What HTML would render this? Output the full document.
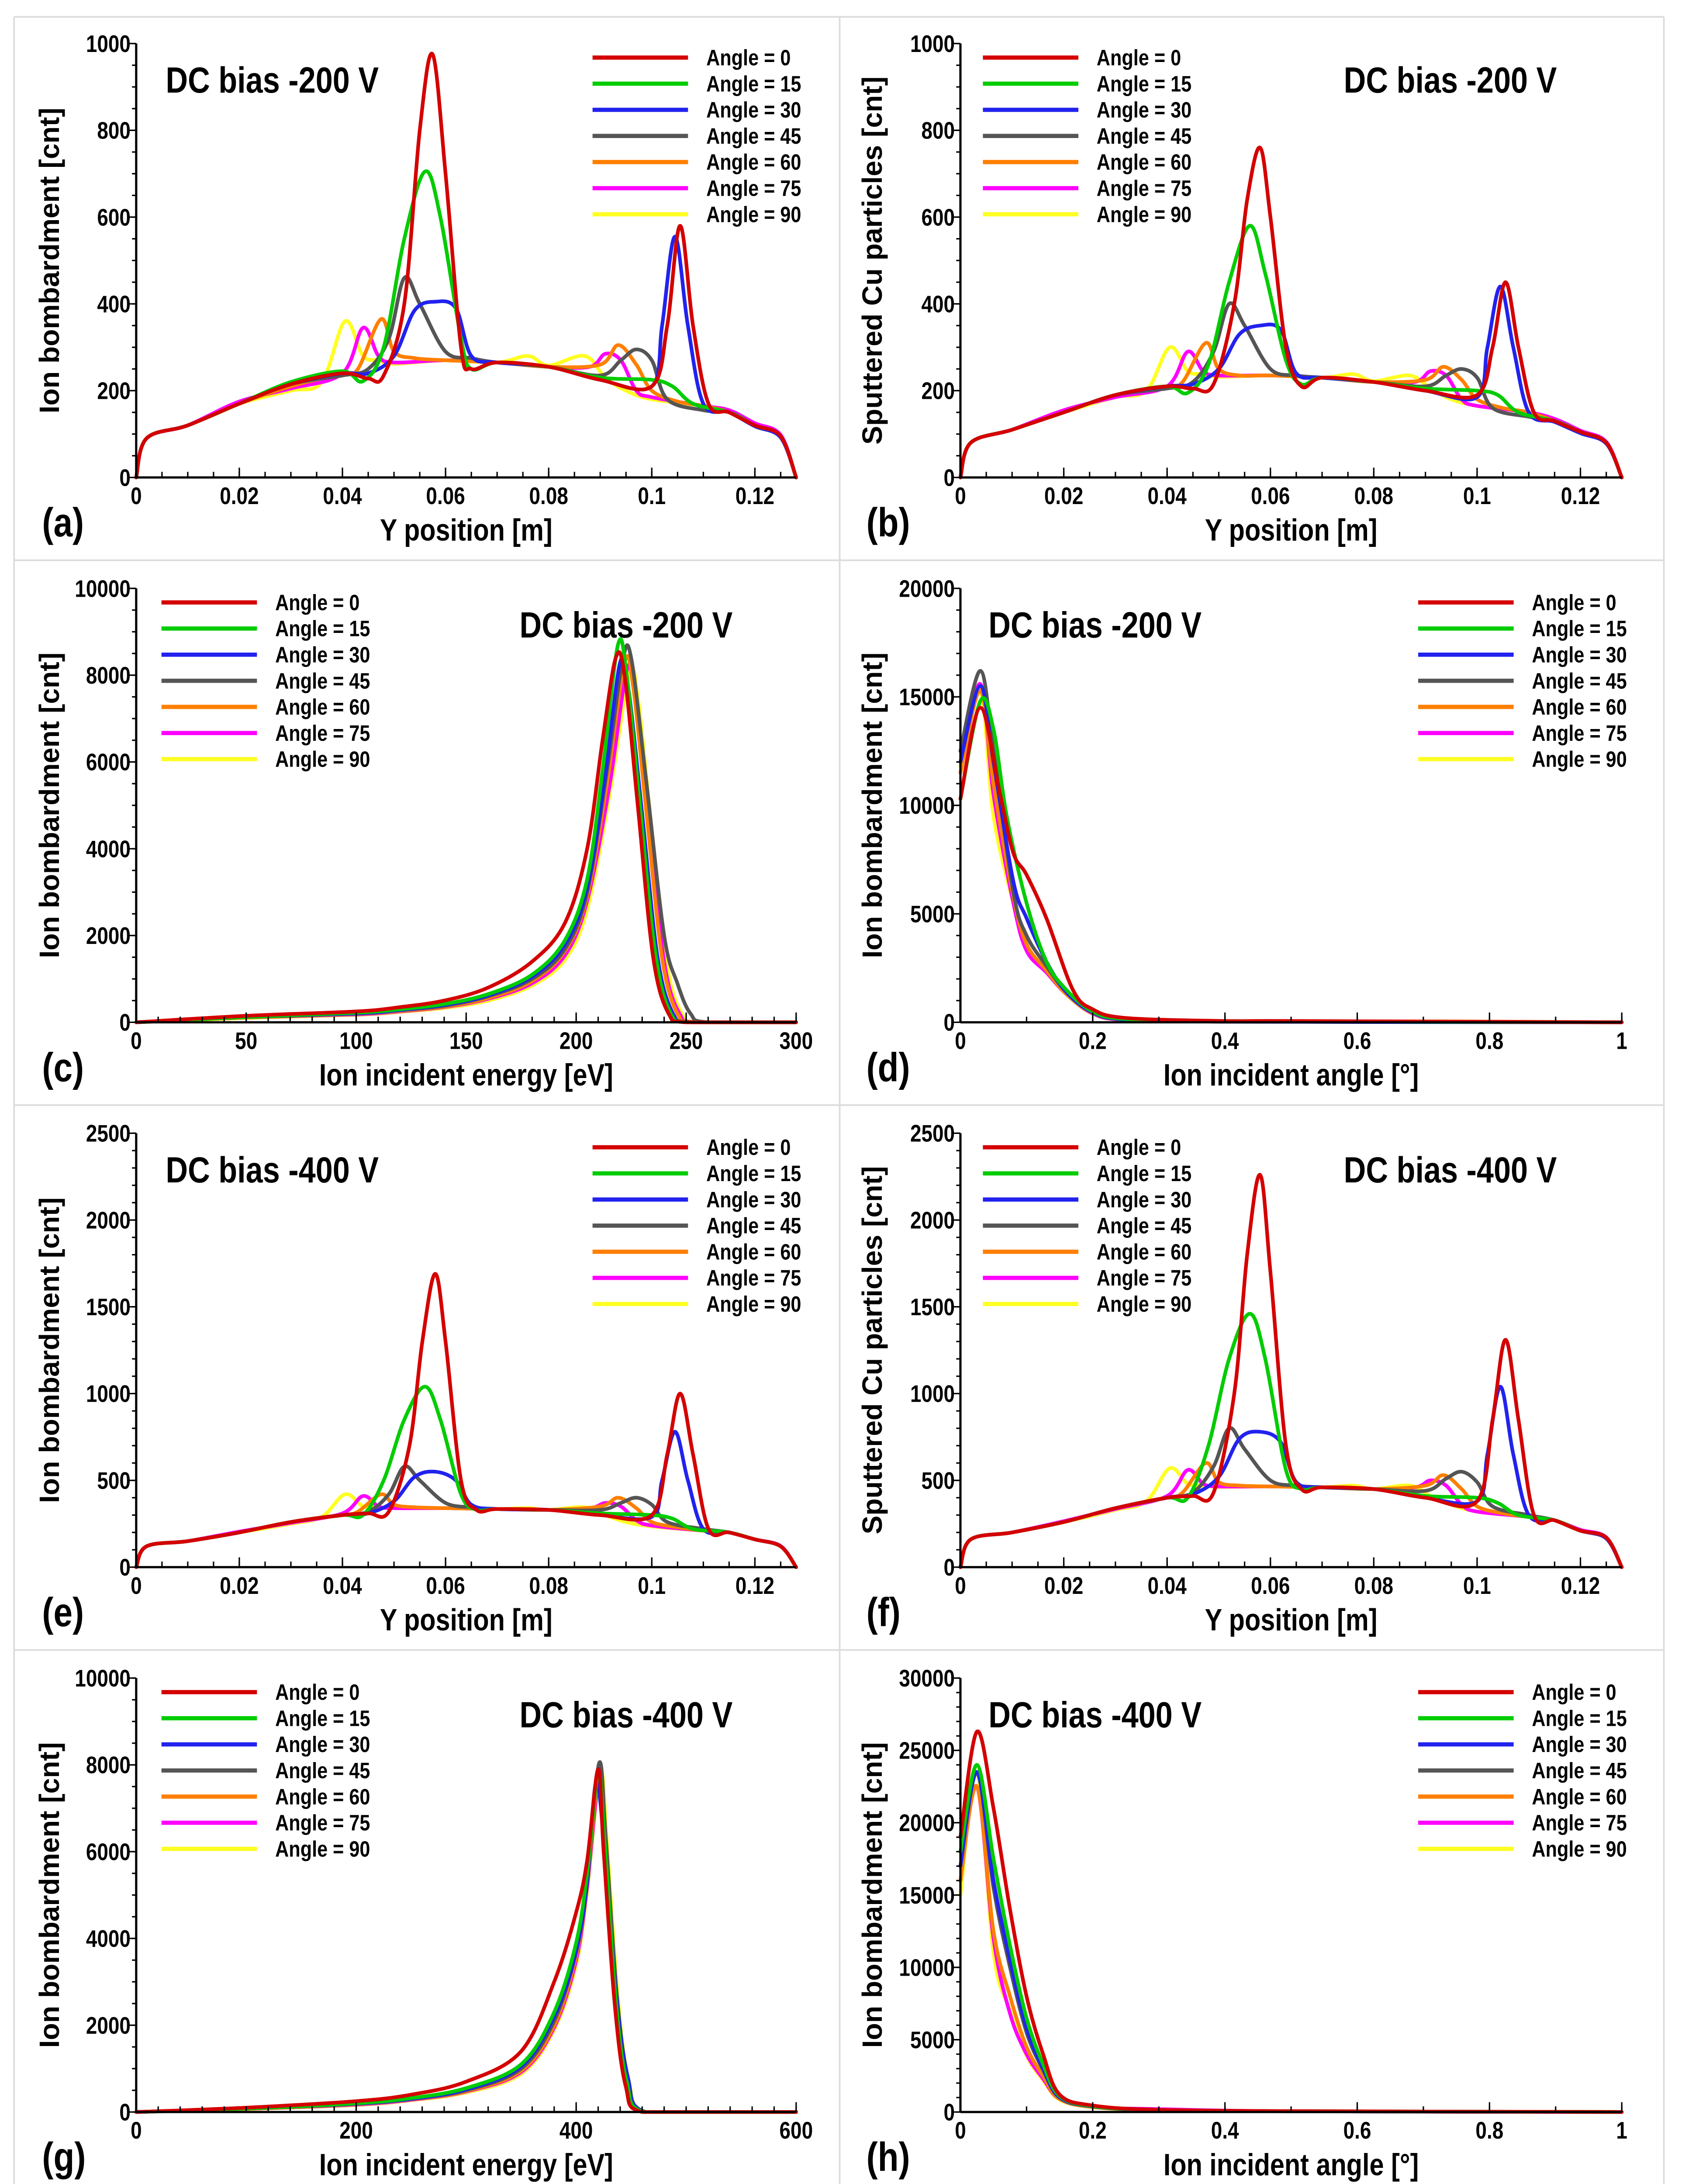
<!DOCTYPE html>
<html><head><meta charset="utf-8">
<style>
html,body{margin:0;padding:0;background:#fff;overflow:hidden;width:3890px;height:5048px;}
svg{display:block;}
text{font-family:"Liberation Sans",Arial,sans-serif;font-weight:bold;fill:#000;}
</style></head>
<body>
<svg id="fig" width="3890" height="5048" viewBox="0 0 1210 1570.2" xmlns="http://www.w3.org/2000/svg">
<rect x="0" y="0" width="1210" height="1571" fill="#fff"/>
<g id="frames" stroke="#dcdcdc" stroke-width="1.2" fill="none">
<line x1="10" y1="12" x2="1185" y2="12"/>
<line x1="10" y1="399" x2="1185" y2="399"/>
<line x1="10" y1="787" x2="1185" y2="787"/>
<line x1="10" y1="1175" x2="1185" y2="1175"/>
<line x1="10" y1="1563" x2="1185" y2="1563"/>
<line x1="10" y1="12" x2="10" y2="1563"/>
<line x1="598" y1="12" x2="598" y2="1563"/>
<line x1="1185" y1="12" x2="1185" y2="1563"/>
</g>
</svg>
<script>
const colors=["#d40000","#00cc00","#2222ee","#555555","#ff7f00","#ff00ff","#ffff22"];
const legendLabels=["Angle =  0","Angle = 15","Angle = 30","Angle = 45","Angle = 60","Angle = 75","Angle = 90"];

// ---- Panel a
const a0=[0,0,.002,90,.01,120,.02,170,.03,215,.04,240,.045,228,.048,235,.052,400,.055,800,.0575,975,.06,700,.063,300,.065,250,.07,265,.08,255,.09,225,.1,210,.103,350,.1055,580,.108,350,.111,170,.115,150,.12,120,.125,95,.128,0];
const a15=[0,0,.002,90,.01,120,.02,170,.03,220,.04,245,.044,222,.048,300,.052,550,.056,705,.059,600,.063,320,.065,250,.07,265,.08,255,.09,230,.1,225,.104,210,.108,170,.115,150,.12,120,.125,95,.128,0];
const a30=[0,0,.002,90,.01,120,.02,170,.03,215,.04,240,.045,240,.05,280,.054,385,.058,405,.062,390,.065,280,.07,265,.08,255,.09,225,.1,210,.102,350,.1045,555,.107,350,.11,170,.115,150,.12,118,.125,92,.128,0];
const a45=[0,0,.002,90,.01,120,.02,170,.03,215,.04,235,.045,250,.049,320,.052,460,.055,400,.06,290,.065,275,.07,265,.08,255,.09,235,.094,270,.097,295,.1,270,.103,180,.11,155,.115,150,.12,120,.125,95,.128,0];
const a60=[0,0,.002,90,.01,120,.02,170,.03,210,.04,240,.043,250,.0475,365,.05,290,.054,275,.06,270,.07,265,.08,255,.09,260,.0935,305,.097,260,.1,200,.105,175,.11,165,.115,150,.12,120,.125,95,.128,0];
const a75=[0,0,.002,90,.01,120,.02,175,.03,205,.04,240,.044,345,.047,280,.05,265,.06,270,.07,265,.08,255,.088,255,.091,285,.094,270,.097,200,.1,185,.11,165,.115,155,.12,125,.125,98,.128,0];
const a90=[0,0,.002,90,.01,120,.02,170,.03,200,.036,220,.0405,360,.044,280,.047,270,.05,262,.06,270,.07,265,.076,280,.08,258,.087,280,.091,230,.095,200,.1,180,.11,165,.115,150,.12,122,.125,95,.128,0];

// ---- Panel b
const b0=[0,0,.002,80,.01,110,.02,150,.03,190,.04,210,.045,205,.049,215,.053,400,.0555,640,.058,760,.06,600,.063,300,.066,210,.07,230,.08,220,.09,200,.1,190,.103,300,.1055,450,.108,300,.111,150,.115,130,.12,105,.125,80,.128,0];
const b15=[0,0,.002,80,.01,110,.02,150,.03,190,.04,210,.044,195,.048,260,.052,450,.056,580,.059,470,.063,270,.066,215,.07,230,.08,220,.09,205,.1,200,.104,190,.108,150,.115,130,.12,105,.125,80,.128,0];
const b30=[0,0,.002,80,.01,110,.02,150,.03,190,.04,210,.045,215,.05,250,.054,330,.058,350,.062,340,.065,240,.07,230,.08,220,.09,200,.1,185,.102,300,.1045,440,.107,300,.11,150,.115,128,.12,102,.125,78,.128,0];
const b45=[0,0,.002,80,.01,110,.02,150,.03,190,.04,205,.045,220,.049,290,.052,400,.055,350,.06,250,.065,235,.07,230,.08,220,.09,210,.094,235,.097,250,.1,230,.103,160,.11,140,.115,130,.12,105,.125,80,.128,0];
const b60=[0,0,.002,80,.01,110,.02,150,.03,190,.04,210,.043,220,.0475,310,.05,250,.054,235,.06,235,.07,230,.08,220,.09,225,.0935,255,.097,225,.1,180,.105,160,.11,150,.115,130,.12,105,.125,80,.128,0];
const b75=[0,0,.002,80,.01,110,.02,155,.03,185,.04,210,.044,290,.047,245,.05,235,.06,235,.07,230,.08,220,.088,220,.091,245,.094,235,.097,180,.1,165,.11,150,.115,135,.12,108,.125,82,.128,0];
const b90=[0,0,.002,80,.01,110,.02,150,.03,185,.036,200,.0405,300,.044,245,.047,238,.05,232,.06,235,.07,230,.076,238,.08,222,.087,235,.091,205,.095,180,.1,165,.11,150,.115,130,.12,105,.125,80,.128,0];

// ---- Panel c
const c0=[0,0,50,150,100,250,120,350,140,500,160,800,180,1400,195,2300,205,4000,212,6500,218,8400,222,8000,228,5000,235,1500,242,200,250,0,300,0];
const c15=[0,0,50,120,100,220,120,300,140,420,160,650,180,1100,195,1900,205,3300,212,5800,219,8700,223,8000,229,5000,236,1600,243,200,252,0,300,0];
const c30=[0,0,50,120,100,200,120,280,140,400,160,620,180,1050,195,1800,205,3100,213,5600,220,8300,224,7600,230,4800,237,1500,244,200,252,0,300,0];
const c45=[0,0,50,120,100,200,120,280,140,380,160,600,180,1000,195,1700,205,3000,214,5800,221,8300,225,8400,232,5500,240,2000,246,900,252,200,260,0,300,0];
const c60=[0,0,50,110,100,190,120,260,140,360,160,560,180,950,195,1650,205,2900,214,5500,222,8300,226,7700,232,4800,239,1500,246,200,254,0,300,0];
const c75=[0,0,50,110,100,180,120,250,140,350,160,540,180,900,195,1550,205,2800,215,5400,223,8100,227,7600,233,4700,240,1400,247,200,255,0,300,0];
const c90=[0,0,50,100,100,170,120,240,140,330,160,500,180,850,195,1450,205,2600,215,5200,224,8000,228,7500,234,4600,241,1400,248,200,256,0,300,0];

// ---- Panel d
const d0=[0,10300,.03,14500,.06,10500,.08,7800,.1,6800,.13,4800,.17,1500,.2,600,.25,200,.4,60,.5,60,1,0];
const d15=[0,10300,.03,14800,.05,13500,.07,9500,.1,5500,.13,2800,.16,1500,.2,500,.25,150,.4,60,1,0];
const d30=[0,12000,.03,15500,.05,12000,.08,6500,.1,4800,.13,2800,.16,1400,.2,450,.25,120,.4,30,1,0];
const d45=[0,12500,.03,16200,.05,12500,.08,6000,.1,4000,.13,2600,.16,1400,.2,450,.25,120,.4,30,1,0];
const d60=[0,11500,.03,15300,.05,11000,.08,5800,.1,3600,.13,2400,.16,1300,.2,420,.25,110,.4,30,.72,40,1,0];
const d75=[0,11500,.03,15600,.05,10500,.08,5500,.1,3300,.13,2300,.16,1300,.2,400,.25,100,.4,30,1,0];
const d90=[0,11800,.03,15300,.05,9500,.08,5500,.1,3500,.13,2400,.16,1300,.2,400,.25,100,.4,30,1,0];

// ---- Panel e
const e0=[0,0,.002,120,.01,150,.02,200,.03,260,.04,300,.045,310,.049,320,.053,700,.0555,1300,.058,1690,.06,1300,.063,500,.066,330,.07,335,.08,330,.09,300,.1,300,.103,650,.1055,1000,.108,650,.111,220,.115,200,.12,160,.125,120,.128,0];
const e15=[0,0,.002,120,.01,150,.02,200,.03,260,.04,300,.044,300,.048,500,.052,850,.056,1040,.059,850,.063,420,.066,330,.07,335,.08,330,.09,310,.1,300,.104,280,.108,220,.115,200,.12,160,.125,120,.128,0];
const e30=[0,0,.002,120,.01,150,.02,200,.03,260,.04,300,.045,310,.05,380,.054,520,.058,550,.062,500,.065,360,.07,335,.08,330,.09,300,.1,290,.102,500,.1045,780,.107,500,.11,220,.115,200,.12,160,.125,120,.128,0];
const e45=[0,0,.002,120,.01,150,.02,200,.03,260,.04,300,.045,320,.049,420,.052,580,.055,500,.06,370,.065,345,.07,335,.08,330,.09,330,.094,370,.097,400,.1,360,.103,260,.11,220,.115,200,.12,160,.125,120,.128,0];
const e60=[0,0,.002,120,.01,150,.02,200,.03,260,.04,300,.043,320,.0475,420,.05,360,.054,345,.06,340,.07,335,.08,330,.09,350,.0935,400,.097,340,.1,260,.105,230,.11,210,.115,200,.12,160,.125,120,.128,0];
const e75=[0,0,.002,120,.01,150,.02,205,.03,255,.04,310,.044,410,.047,350,.05,340,.06,340,.07,335,.08,330,.088,340,.091,370,.094,350,.097,270,.1,240,.11,210,.115,200,.12,160,.125,122,.128,0];
const e90=[0,0,.002,120,.01,150,.02,200,.03,250,.036,290,.0405,420,.044,350,.047,345,.05,340,.06,340,.07,335,.076,340,.08,330,.087,345,.091,300,.095,260,.1,235,.11,210,.115,200,.12,160,.125,120,.128,0];

// ---- Panel f
const f0=[0,0,.002,160,.01,200,.02,260,.03,340,.04,400,.045,410,.049,430,.053,1000,.0555,1800,.058,2260,.06,1700,.063,700,.066,450,.07,460,.08,450,.09,400,.1,380,.103,850,.1055,1310,.108,850,.111,300,.115,270,.12,210,.125,170,.128,0];
const f15=[0,0,.002,160,.01,200,.02,260,.03,340,.04,400,.044,400,.048,700,.052,1200,.056,1460,.059,1200,.063,560,.066,450,.07,460,.08,450,.09,410,.1,400,.104,370,.108,300,.115,270,.12,210,.125,170,.128,0];
const f30=[0,0,.002,160,.01,200,.02,260,.03,340,.04,400,.045,420,.05,520,.054,740,.058,780,.062,720,.065,490,.07,460,.08,450,.09,400,.1,380,.102,650,.1045,1040,.107,650,.11,300,.115,270,.12,210,.125,165,.128,0];
const f45=[0,0,.002,160,.01,200,.02,260,.03,340,.04,400,.045,430,.049,580,.052,800,.055,680,.06,500,.065,470,.07,460,.08,450,.09,440,.094,510,.097,550,.1,490,.103,350,.11,300,.115,270,.12,210,.125,170,.128,0];
const f60=[0,0,.002,160,.01,200,.02,260,.03,340,.04,400,.043,430,.0475,600,.05,490,.054,470,.06,465,.07,460,.08,450,.09,470,.0935,530,.097,450,.1,350,.105,310,.11,290,.115,270,.12,210,.125,170,.128,0];
const f75=[0,0,.002,160,.01,200,.02,265,.03,335,.04,410,.044,560,.047,480,.05,465,.06,465,.07,460,.08,450,.088,460,.091,500,.094,470,.097,360,.1,320,.11,290,.115,270,.12,215,.125,172,.128,0];
const f90=[0,0,.002,160,.01,200,.02,260,.03,330,.036,380,.0405,570,.044,480,.047,470,.05,462,.06,465,.07,460,.076,470,.08,450,.087,470,.091,410,.095,360,.1,320,.11,290,.115,270,.12,210,.125,170,.128,0];

// ---- Panel g
const g0=[0,0,100,100,200,250,250,400,300,700,350,1400,380,3000,400,4600,410,5800,420,7900,425,6000,435,2500,445,600,460,0,600,0];
const g15=[0,0,100,80,200,200,250,320,300,550,350,1100,380,2300,400,3900,410,5500,420,7800,426,6200,436,2600,446,700,462,0,600,0];
const g30=[0,0,100,80,200,190,250,300,300,520,350,1050,380,2200,400,3700,410,5300,418,7600,425,6300,436,2800,447,800,463,0,600,0];
const g45=[0,0,100,80,200,190,250,300,300,500,350,1000,380,2100,400,3700,410,5400,421,8050,427,6300,437,2700,447,800,463,0,600,0];
const g60=[0,0,100,70,200,180,250,290,300,480,350,950,380,2000,400,3600,410,5300,421,7900,427,6300,437,2600,447,700,463,0,600,0];
const g75=[0,0,100,70,200,170,250,280,300,470,350,920,380,1950,400,3500,410,5200,421,7700,427,6200,437,2600,447,700,463,0,600,0];
const g90=[0,0,100,70,200,160,250,270,300,450,350,880,380,1900,400,3400,410,5100,422,7850,428,6200,438,2600,448,700,464,0,600,0];

// ---- Panel h
const h0=[0,19000,.025,26300,.05,21000,.075,14000,.1,8000,.125,4000,.15,1200,.2,450,.3,150,.5,60,1,0];
const h15=[0,18000,.025,24000,.05,17500,.075,11500,.1,6500,.125,3300,.15,1100,.2,400,.3,150,.5,60,1,0];
const h30=[0,17000,.025,23500,.05,16000,.075,10500,.1,5800,.125,3000,.15,1000,.2,380,.3,130,.5,50,1,0];
const h45=[0,17000,.025,23500,.05,15500,.075,10000,.1,5500,.125,2900,.15,1000,.2,380,.3,130,.5,50,1,0];
const h60=[0,16000,.025,22500,.05,12500,.075,8000,.1,4500,.125,2500,.15,900,.2,350,.3,120,.5,50,1,0];
const h75=[0,16000,.025,22500,.05,12000,.075,6800,.1,4000,.125,2300,.15,900,.2,350,.3,200,.5,50,1,0];
const h90=[0,15000,.025,23500,.05,11000,.075,7000,.1,3900,.125,2200,.15,850,.2,330,.3,120,.5,50,1,0];

const xTicksPos=["0","0.02","0.04","0.06","0.08","0.1","0.12"];
const xTicksE200=["0","50","100","150","200","250","300"];
const xTicksE400=["0","200","400","600"];
const xTicksAng=["0","0.2","0.4","0.6","0.8","1"];

const NS="http://www.w3.org/2000/svg";
const svg=document.getElementById('fig');
function mk(tag,attrs,parent){const e=document.createElementNS(NS,tag);for(const k in attrs)e.setAttribute(k,attrs[k]);parent.appendChild(e);return e;}
const SQ=0.84;
function ctext(x,y,anchor,size,str,parent){
  const t=mk('text',{x:(x/SQ).toFixed(2),y:y,'text-anchor':anchor,'font-size':size,transform:`scale(${SQ} 1)`,'xml:space':'preserve'},parent);
  t.textContent=str;return t;
}
function smoothPath(pts,yMinPix){
  // Catmull-Rom to cubic Bezier, clamped to baseline
  let d='M'+pts[0][0].toFixed(2)+','+pts[0][1].toFixed(2);
  for(let i=0;i<pts.length-1;i++){
    const p0=pts[Math.max(0,i-1)],p1=pts[i],p2=pts[i+1],p3=pts[Math.min(pts.length-1,i+2)];
    const t=0.5/3;
    let c1x=p1[0]+(p2[0]-p0[0])*t, c1y=p1[1]+(p2[1]-p0[1])*t;
    let c2x=p2[0]-(p3[0]-p1[0])*t, c2y=p2[1]-(p3[1]-p1[1])*t;
    c1x=Math.min(Math.max(c1x,p1[0]),p2[0]);c2x=Math.min(Math.max(c2x,p1[0]),p2[0]);
    c1y=Math.min(c1y,yMinPix);c2y=Math.min(c2y,yMinPix);
    d+='C'+c1x.toFixed(2)+','+c1y.toFixed(2)+' '+c2x.toFixed(2)+','+c2y.toFixed(2)+' '+p2[0].toFixed(2)+','+p2[1].toFixed(2);
  }
  return d;
}

function panel(cfg){
  const g=mk('g',{},svg);
  
  
  const L=cfg.x0,R=cfg.x1,T=cfg.top,B=cfg.top+309;
  const sx=v=>L+(v-cfg.xmin)/(cfg.xmax-cfg.xmin)*(R-L);
  const sy=v=>B-v/cfg.ymax*(B-T);
  const sg=mk('g',{fill:'none','stroke-width':2.6,'stroke-linejoin':'round','stroke-linecap':'round'},g);
  
  
  for(let s=cfg.series.length-1;s>=0;s--){
    const arr=cfg.series[s];const pts=[];
    for(let i=0;i<arr.length;i+=2)pts.push([sx(arr[i]),sy(arr[i+1])]);
    const p=mk('path',{d:smoothPath(pts,B),stroke:colors[s]},sg);
    
    
  }
  const ax=mk('g',{stroke:'#000','stroke-width':1.6,fill:'none'},g);
  
  
  mk('line',{x1:L,y1:T,x2:L,y2:B},ax);
  mk('line',{x1:L,y1:B,x2:R,y2:B},ax);
  const tg=mk('g',{stroke:'#000','stroke-width':1},g);
  for(let v=0;v<=cfg.ymax+1e-9;v+=cfg.yminor){const y=sy(v);mk('line',{x1:L-3,y1:y,x2:L,y2:y},tg);}
  for(let i=0;i<=cfg.yticks;i++){const v=cfg.ymax*i/cfg.yticks;const y=sy(v);mk('line',{x1:L-6,y1:y,x2:L,y2:y},tg);
    const t=ctext(L-4,y+6,'end',17,String(Math.round(v)),g);
    }
  for(let v=cfg.xmin;v<=cfg.xmax+1e-9;v+=cfg.xminor){const x=sx(v);mk('line',{x1:x,y1:B,x2:x,y2:B-4},tg);}
  cfg.xlabels.forEach(lbl=>{const x=sx(parseFloat(lbl));mk('line',{x1:x,y1:B,x2:x,y2:B-7},tg);
    const t=ctext(x,B+19,'middle',17,lbl,g);
    });
  let t=ctext((L+R)/2,B+45,'middle',22,cfg.xlabel,g);
  
  t=mk('text',{x:0,y:0,'text-anchor':'middle','font-size':20,transform:`translate(${cfg.ylabX},${(T+B)/2}) rotate(-90)`},g);t.textContent=cfg.ylabel;
  
  t=ctext(cfg.letterX,B+42,'start',29,'('+cfg.id+')',g);
  
  t=ctext(cfg.titleX,T+35,'start',26,cfg.title,g);
  
  const lg=mk('g',{},g);
  
  
  for(let s=0;s<7;s++){const y=T+cfg.legY+s*18.6;
    const e=mk('g',{},lg);
    
    
    mk('line',{x1:cfg.legX,y1:y,x2:cfg.legX+68,y2:y,stroke:colors[s],'stroke-width':3},e);
    ctext(cfg.legX+81,y+5.5,'start',16,legendLabels[s],e);}
}
const YB="Ion bombardment [cnt]",YS="Sputtered Cu particles [cnt]";
panel({id:'a',top:31,x0:97,x1:567,xmin:0,xmax:0.128,xminor:0.005,xlabels:xTicksPos,ymax:1000,yticks:5,yminor:50,series:[a0,a15,a30,a45,a60,a75,a90],xlabel:'Y position [m]',ylabel:YB,ylabX:42,letterX:30,title:'DC bias -200 V',titleX:118,legX:422,legY:10});
panel({id:'b',top:31,x0:684,x1:1155,xmin:0,xmax:0.128,xminor:0.005,xlabels:xTicksPos,ymax:1000,yticks:5,yminor:50,series:[b0,b15,b30,b45,b60,b75,b90],xlabel:'Y position [m]',ylabel:YS,ylabX:628,letterX:617,title:'DC bias -200 V',titleX:957,legX:700,legY:10});
panel({id:'c',top:419,x0:97,x1:567,xmin:0,xmax:300,xminor:10,xlabels:xTicksE200,ymax:10000,yticks:5,yminor:500,series:[c0,c15,c30,c45,c60,c75,c90],xlabel:'Ion incident energy [eV]',ylabel:YB,ylabX:42,letterX:30,title:'DC bias -200 V',titleX:370,legX:115,legY:10});
panel({id:'d',top:419,x0:684,x1:1155,xmin:0,xmax:1,xminor:0.1,xlabels:xTicksAng,ymax:20000,yticks:4,yminor:1000,series:[d0,d15,d30,d45,d60,d75,d90],xlabel:'Ion incident angle [°]',ylabel:YB,ylabX:628,letterX:617,title:'DC bias -200 V',titleX:704,legX:1010,legY:10});
panel({id:'e',top:807,x0:97,x1:567,xmin:0,xmax:0.128,xminor:0.005,xlabels:xTicksPos,ymax:2500,yticks:5,yminor:100,series:[e0,e15,e30,e45,e60,e75,e90],xlabel:'Y position [m]',ylabel:YB,ylabX:42,letterX:30,title:'DC bias -400 V',titleX:118,legX:422,legY:10});
panel({id:'f',top:807,x0:684,x1:1155,xmin:0,xmax:0.128,xminor:0.005,xlabels:xTicksPos,ymax:2500,yticks:5,yminor:100,series:[f0,f15,f30,f45,f60,f75,f90],xlabel:'Y position [m]',ylabel:YS,ylabX:628,letterX:617,title:'DC bias -400 V',titleX:957,legX:700,legY:10});
panel({id:'g',top:1195,x0:97,x1:567,xmin:0,xmax:600,xminor:20,xlabels:xTicksE400,ymax:10000,yticks:5,yminor:500,series:[g0,g15,g30,g45,g60,g75,g90],xlabel:'Ion incident energy [eV]',ylabel:YB,ylabX:42,letterX:30,title:'DC bias -400 V',titleX:370,legX:115,legY:10});
panel({id:'h',top:1195,x0:684,x1:1155,xmin:0,xmax:1,xminor:0.1,xlabels:xTicksAng,ymax:30000,yticks:6,yminor:1000,series:[h0,h15,h30,h45,h60,h75,h90],xlabel:'Ion incident angle [°]',ylabel:YB,ylabX:628,letterX:617,title:'DC bias -400 V',titleX:704,legX:1010,legY:10});
</script>
</body></html>
